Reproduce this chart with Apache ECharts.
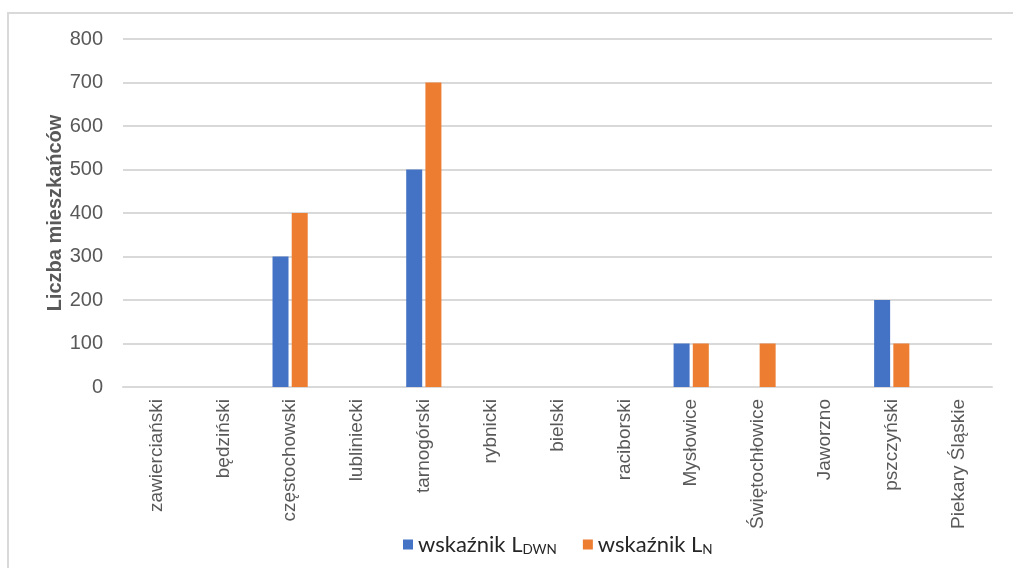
<!DOCTYPE html>
<html><head><meta charset="utf-8">
<script src="https://cdn.jsdelivr.net/npm/echarts@6/dist/echarts.min.js"></script>
<style>
html,body{margin:0;padding:0;background:#fff;}
#frame{position:absolute;left:7px;top:12px;width:1020px;height:570px;border-top:2px solid #d9d9d9;border-left:2px solid #d9d9d9;}
#c{position:absolute;left:0;top:0;width:1013px;height:568px;}
</style></head>
<body>
<div id="frame"></div>
<div id="c"></div>
<script>
const categories = ['zawierciański','będziński','częstochowski','lubliniecki','tarnogórski','rybnicki','bielski','raciborski','Mysłowice','Świętochłowice','Jaworzno','pszczyński','Piekary Śląskie'];
const ldwn = [0,0,300,0,500,0,0,0,100,0,0,200,0];
const ln = [0,0,400,0,700,0,0,0,100,100,0,100,0];
const yTicks = [0,100,200,300,400,500,600,700,800];

const chart = echarts.init(document.getElementById('c'));
const legendRich = {
  n: {fontSize: 22, color: '#262626', fontFamily: 'Lato, sans-serif'},
  s: {fontSize: 13.5, color: '#262626', verticalAlign: 'bottom', padding: [11,0,0,0], fontFamily: 'Lato, sans-serif'}
};
chart.setOption({
  animation: false,
  grid: {left: 123, right: 21, top: 39, bottom: 181},
  legend: {
    bottom: 6, left: 398, itemWidth: 10, itemHeight: 10, itemGap: 26, icon: 'rect',
    data: ['ldwn','ln'],
    formatter: function(name){ return name === 'ldwn' ? '{n|wskaźnik L}{s|DWN}' : '{n|wskaźnik L}{s|N}'; },
    textStyle: {rich: legendRich}
  },
  xAxis: {
    type: 'category', data: categories,
    axisLine: {lineStyle: {color: '#d9d9d9', width: 2}},
    axisTick: {show: false},
    axisLabel: {rotate: 90, color: '#595959', fontSize: 19, margin: 12, interval: 0, fontFamily: 'Liberation Sans, Arial, sans-serif'}
  },
  yAxis: {
    type: 'value', min: 0, max: 800, interval: 100,
    name: 'Liczba mieszkańców', nameLocation: 'middle', nameGap: 58, nameMoveOverlap: false,
    nameTextStyle: {fontSize: 20, fontWeight: 'bold', color: '#595959', fontFamily: 'Liberation Sans, Arial, sans-serif'},
    axisLabel: {color: '#595959', fontSize: 20, margin: 20, fontFamily: 'Liberation Sans, Arial, sans-serif',
      formatter: function(v){ return yTicks.indexOf(v) >= 0 ? String(v) : ''; }},
    splitLine: {lineStyle: {color: '#d9d9d9', width: 2}},
    axisLine: {show: false}, axisTick: {show: false}
  },
  series: [
    {name: 'ldwn', type: 'bar', data: ldwn, barWidth: 16, barGap: '20%', itemStyle: {color: '#4472c4'}},
    {name: 'ln', type: 'bar', data: ln, barWidth: 16, itemStyle: {color: '#ed7d31'}}
  ]
});
</script>
</body></html>
